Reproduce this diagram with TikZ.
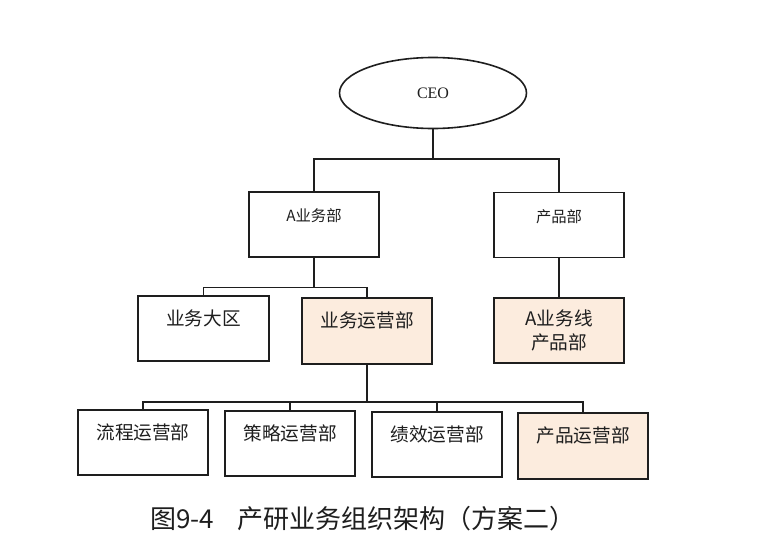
\documentclass[tikz,border=0pt]{standalone}
\usepackage{fontspec}
\setmainfont{Noto Sans CJK SC}
\newfontfamily\latinserif{Liberation Serif}
\usetikzlibrary{shapes.geometric}
\definecolor{peach}{RGB}{252,236,222}
\definecolor{ink}{RGB}{30,30,30}
\begin{document}
\begin{tikzpicture}[x=0.75pt,y=-0.75pt,
  box/.style={draw=ink, line width=1.2pt, rectangle, minimum width=97.5pt, minimum height=48.75pt, inner sep=0pt, text=ink},
  topbox/.style={box, font=\fontsize{11.5}{13}\selectfont, text height=9pt, text depth=13pt},
  lowbox/.style={box, font=\fontsize{14}{16}\selectfont, text height=11pt, text depth=16.2pt},
  hl/.style={fill=peach},
  conn/.style={draw=ink, line width=1.1pt}]
\useasboundingbox[fill=white] (0,0) rectangle (776,547);

\node[ellipse, draw=ink, line width=1.2pt, minimum width=140.25pt, minimum height=53.25pt, inner sep=0pt, text=ink, font=\latinserif\fontsize{12}{14}\selectfont] (CEO) at (433,93) {CEO};

\node[topbox] (A) at (314,224.5) {A业务部};
\node[topbox] (P) at (559,225) {产品部};

\node[lowbox, minimum width=98.25pt] (DQ) at (203.5,328.5) {业务大区};
\node[lowbox, hl, minimum height=49.5pt] (YY) at (367,331) {业务运营部};
\node[box, hl, align=center, font=\fontsize{14}{18}\selectfont] (AP) at (559,330.5) {A业务线\\产品部};

\node[lowbox] (LC) at (143,442.5) {流程运营部};
\node[lowbox] (CL) at (290,443.5) {策略运营部};
\node[lowbox] (JX) at (437,444.5) {绩效运营部};
\node[lowbox, hl, minimum height=49.5pt] (CP) at (583,446) {产品运营部};

\coordinate (j1) at (433,159);
\coordinate (j2) at (314,287.5);
\coordinate (j3) at (367,402);

\draw[conn] (CEO.south) -- (j1);
\draw[conn] (A.north) |- (j1) -| (P.north);
\draw[conn] (A.south) -- (j2);
\draw[conn] (DQ.north) |- (j2) -| (YY.north);
\draw[conn] (P.south) -- (AP.north);
\draw[conn] (YY.south) -- (j3);
\draw[conn] (LC.north) |- (j3) -| (CP.north);
\draw[conn] (CL.north) -- (CL.north |- j3);
\draw[conn] (JX.north) -- (JX.north |- j3);

\node[text=ink, font=\fontsize{19.5}{22}\selectfont] (cap) at (363,519) {图9-4\hspace{0.9em}产研业务组织架构（方案二）};
\end{tikzpicture}
\end{document}
